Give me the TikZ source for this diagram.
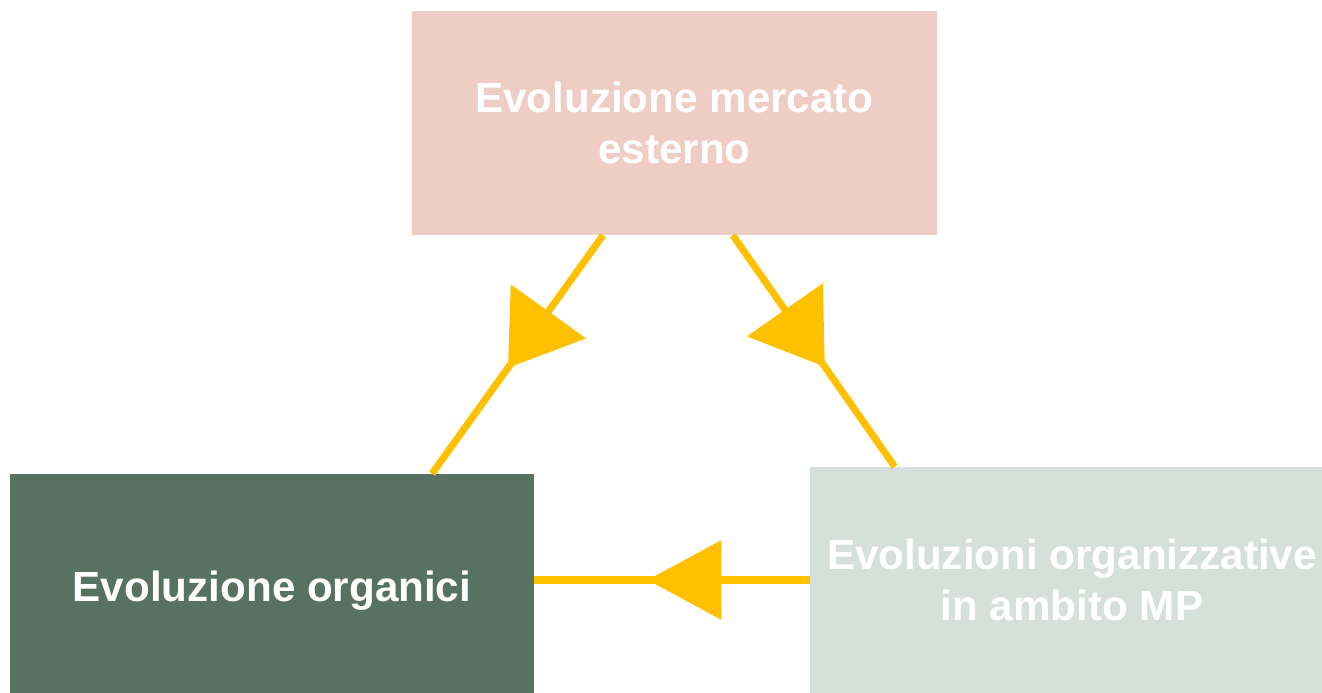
\documentclass[tikz,border=0pt]{standalone}
\usepackage{fontspec}
\setmainfont{Liberation Sans}
\usetikzlibrary{arrows.meta,calc,decorations.markings}
\definecolor{rosa}{HTML}{EECDC4}
\definecolor{verdescuro}{HTML}{577262}
\definecolor{verdechiaro}{HTML}{D6E0DA}
\definecolor{giallo}{HTML}{FFC000}

\begin{document}
\begin{tikzpicture}[x=0.02cm,y=-0.02cm,
 box/.style={rectangle,minimum width=10.48cm,minimum height=4.48cm,inner sep=0pt,
  text=white,align=center,font=\bfseries\fontsize{24}{29.5}\selectfont},
 conn/.style={draw=giallo,color=giallo,line width=4pt},
 tipdiag/.style={postaction={decorate,decoration={markings,
  mark=at position #1 with {\arrow{Triangle[length=1.39cm,width=1.82cm]}}}}},
 tiphoriz/.style={postaction={decorate,decoration={markings,
  mark=at position #1 with {\arrow{Triangle[length=1.48cm,width=1.56cm]}}}}}]
 \useasboundingbox (0,0) rectangle (1322,693);
 \node[box,fill=rosa,minimum width=10.5cm] (mercato) at (674.5,123) {Evoluzione mercato\\esterno};
 \node[box,fill=verdescuro,text depth=0pt] (organici) at (272,586) {Evoluzione organici};
 \node[box,fill=verdechiaro,minimum height=4.52cm] (organizzative) at (1072,580) {Evoluzioni organizzative\\in ambito MP};
 \draw[conn,tipdiag=0.556] ($(mercato.south west)!0.364!(mercato.south east)$)
  -- ($(organici.north west)!0.805!(organici.north east)$);
 \draw[conn,tipdiag=0.568] ($(mercato.south west)!0.611!(mercato.south east)$)
  -- ($(organizzative.north west)!0.162!(organizzative.north east)$);
 \draw[conn,tiphoriz=0.589] (organizzative.west) -- (organizzative.west -| organici.east);
\end{tikzpicture}
\end{document}
